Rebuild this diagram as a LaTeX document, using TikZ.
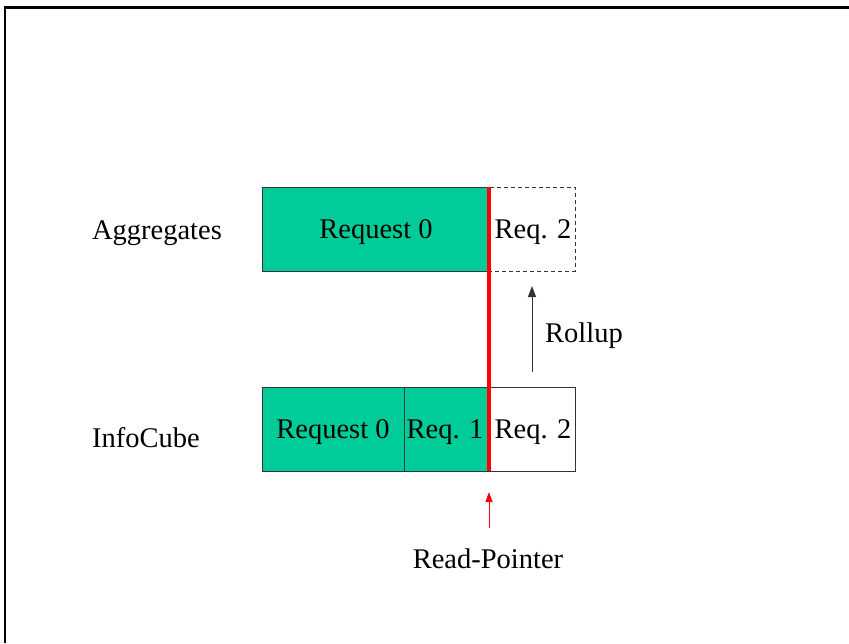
\documentclass[tikz,border=0pt]{standalone}
\usepackage{fontspec}
\setmainfont{Liberation Serif}
\usetikzlibrary{arrows.meta}
\definecolor{reqgreen}{RGB}{0,204,153}
\tikzset{
  x=1pt, y=-1pt,
  lbl/.style={font=\fontsize{28.5}{34}\selectfont, inner sep=0pt},
  cell/.style={draw=black!80, line width=1pt},
  filled/.style={cell, fill=reqgreen},
  pending/.style={cell, dashed, dash pattern=on 4pt off 3pt},
  uparrow/.style={-{Triangle[length=11pt,width=8pt]}, line width=1pt}
}
\begin{document}
\begin{tikzpicture}
\useasboundingbox (0,0) rectangle (849,643);
% outer frame (top and left edges)
\draw[line width=2.5pt] (5,643) -- (5,7.5) -- (849,7.5);

% aggregates row
\draw[filled] (262,187) rectangle (488,271);
\draw[pending] (488,187) rectangle (575,271);
\node[lbl] (a0) at (376,232) {Request 0};
\node[lbl] (a2) at (533,232) {Req. 2};
\node[lbl] (agg) at (157,233) {Aggregates};

% infocube row
\draw[filled] (262,387) rectangle (404,471);
\draw[filled] (404,387) rectangle (488,471);
\draw[cell] (488,387) rectangle (575,471);
\node[lbl] (c0) at (333,432) {Request 0};
\node[lbl] (c1) at (445,432) {Req. 1};
\node[lbl] (c2) at (533,432) {Req. 2};
\node[lbl] (cube) at (146,438) {InfoCube};

% read pointer
\coordinate (rtop) at (488.5,187);
\coordinate (rbot) at (488.5,471);
\draw[red, line width=4pt] (rtop) -- (rbot);
\coordinate (ptail) at (489,528);
\coordinate (phead) at (489,492);
\draw[uparrow, red, -{Triangle[length=10pt,width=7pt]}] (ptail) -- (phead);
\node[lbl] (rp) at (488,559) {Read-Pointer};

% rollup
\coordinate (rtail) at (532,372);
\coordinate (rhead) at (532,286);
\draw[uparrow, black!80] (rtail) -- (rhead);
\node[lbl] (roll) at (584,336) {Rollup};
\end{tikzpicture}
\end{document}
